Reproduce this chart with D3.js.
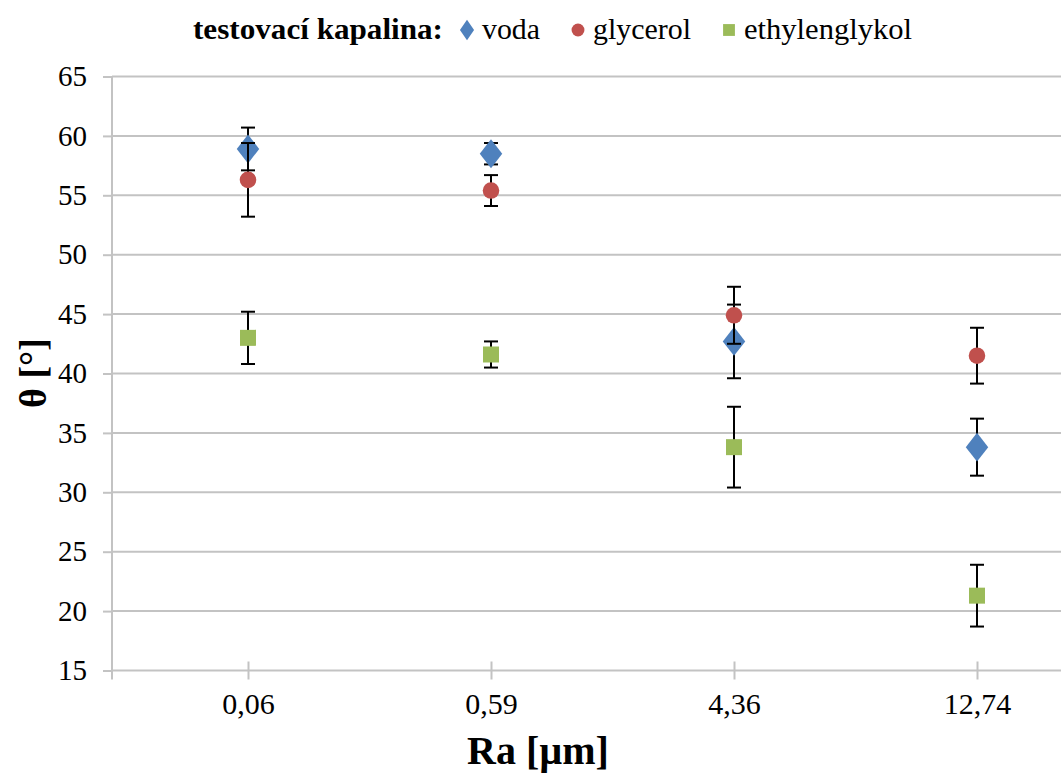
<!DOCTYPE html>
<html>
<head>
<meta charset="utf-8">
<script src="https://cdn.jsdelivr.net/npm/d3@7/dist/d3.min.js"></script>
<style>
  body { margin: 0; background: #fff; }
  svg { display: block; font-family: "Liberation Serif", "Times New Roman", serif; }
  .grid line { stroke: #c3c3c3; stroke-width: 2px; }
  .err { stroke: #000; stroke-width: 2px; }
</style>
</head>
<body>
<div id="chart"></div>
<script>
// categories (Ra values) and series
var categories = ['0,06', '0,59', '4,36', '12,74'];
var seriesNames = ['voda', 'glycerol', 'ethylenglykol'];
var vodaMean = [58.9, 58.5, 42.7, 33.8];
var vodaErr = [1.8, 0.9, 3.1, 2.4];
var glycerolMean = [56.3, 55.4, 44.9, 41.5];
var glycerolErr = [3.1, 1.3, 2.4, 2.35];
var ethylMean = [43.0, 41.6, 33.8, 21.3];
var ethylErr = [2.2, 1.1, 3.4, 2.6];
var yTicks = [15, 20, 25, 30, 35, 40, 45, 50, 55, 60, 65];

var W = 1061, H = 774;
var plotLeft = 112, plotTop = 76.5, plotBottom = 670.5;

var svg = d3.select('#chart').append('svg').attr('width', W).attr('height', H);

var y = d3.scaleLinear().domain([15, 65]).range([plotBottom, plotTop]);
var x = d3.scalePoint().domain(categories).range([248, 977]);

// horizontal gridlines
svg.append('g').attr('class', 'grid')
  .selectAll('line').data(yTicks).enter().append('line')
  .attr('x1', plotLeft).attr('x2', W)
  .attr('y1', function(d) { return y(d); })
  .attr('y2', function(d) { return y(d); });

// y axis
var yAxis = d3.axisLeft(y).tickValues(yTicks).tickSize(9).tickPadding(16);
var gy = svg.append('g').attr('transform', 'translate(' + plotLeft + ',0)').call(yAxis);
gy.attr('font-size', null).attr('font-family', null);
gy.select('.domain').remove();
gy.selectAll('.tick line').attr('stroke', '#c3c3c3').attr('stroke-width', 2);
gy.selectAll('.tick text').attr('font-size', 29).attr('fill', '#000');
svg.append('line').attr('x1', plotLeft).attr('x2', plotLeft)
  .attr('y1', plotTop).attr('y2', plotBottom + 9)
  .attr('stroke', '#c3c3c3').attr('stroke-width', 2);

// x axis
var xAxis = d3.axisBottom(x).tickSize(9).tickPadding(13);
var gx = svg.append('g').attr('transform', 'translate(0,' + plotBottom + ')').call(xAxis);
gx.attr('font-size', null).attr('font-family', null);
gx.select('.domain').remove();
gx.selectAll('.tick line').attr('y1', -9).attr('stroke', '#c3c3c3').attr('stroke-width', 2);
gx.selectAll('.tick text').attr('font-size', 30).attr('fill', '#000');

// axis titles
svg.append('text').attr('x', 538).attr('y', 764).attr('text-anchor', 'middle')
  .attr('font-size', 40).attr('font-weight', 'bold').text('Ra [µm]');
svg.append('text').attr('transform', 'translate(46,373) rotate(-90)')
  .attr('text-anchor', 'middle').attr('font-size', 38).attr('font-weight', 'bold')
  .text('θ [°]');

var series = [
  { name: seriesNames[0], mean: vodaMean, err: vodaErr, color: '#4f81bd', shape: d3.symbolDiamond, size: 240 },
  { name: seriesNames[1], mean: glycerolMean, err: glycerolErr, color: '#c0504d', shape: d3.symbolCircle, size: 215 },
  { name: seriesNames[2], mean: ethylMean, err: ethylErr, color: '#9bbb59', shape: d3.symbolSquare, size: 256 }
];

var cap = 7;
// error bars first, then markers, per series in drawing order
series.forEach(function(s) {
  var pts = categories.map(function(c, i) { return { c: c, m: s.mean[i], e: s.err[i] }; });
  var g = svg.append('g');
  var eb = g.selectAll('.eb').data(pts).enter().append('g');
  eb.append('line').attr('class', 'err')
    .attr('x1', function(d) { return x(d.c); }).attr('x2', function(d) { return x(d.c); })
    .attr('y1', function(d) { return y(d.m + d.e); }).attr('y2', function(d) { return y(d.m - d.e); });
  eb.append('line').attr('class', 'err')
    .attr('x1', function(d) { return x(d.c) - cap; }).attr('x2', function(d) { return x(d.c) + cap; })
    .attr('y1', function(d) { return y(d.m + d.e); }).attr('y2', function(d) { return y(d.m + d.e); });
  eb.append('line').attr('class', 'err')
    .attr('x1', function(d) { return x(d.c) - cap; }).attr('x2', function(d) { return x(d.c) + cap; })
    .attr('y1', function(d) { return y(d.m - d.e); }).attr('y2', function(d) { return y(d.m - d.e); });
  g.selectAll('.pt').data(pts).enter().append('path')
    .attr('d', d3.symbol().type(s.shape).size(s.size))
    .attr('transform', function(d) {
      var sc = s.shape === d3.symbolDiamond ? ' scale(1.35,1)' : '';
      return 'translate(' + x(d.c) + ',' + y(d.m) + ')' + sc;
    })
    .attr('fill', s.color);
});

// legend
var lg = svg.append('g');
lg.append('text').attr('x', 193).attr('y', 39).attr('font-size', 30).attr('font-weight', 'bold')
  .attr('textLength', 250).attr('lengthAdjust', 'spacingAndGlyphs')
  .text('testovací kapalina:');
var legendX = [467, 578, 729];
var legendW = [58, 98, 168];
series.forEach(function(s, i) {
  var sz = s.shape === d3.symbolDiamond ? 120 : (s.shape === d3.symbolCircle ? 130 : 140);
  lg.append('path').attr('d', d3.symbol().type(s.shape).size(sz))
    .attr('transform', 'translate(' + legendX[i] + ',30)' + (s.shape === d3.symbolDiamond ? ' scale(1.2,1)' : ''))
    .attr('fill', s.color);
  lg.append('text').attr('x', legendX[i] + 15).attr('y', 39).attr('font-size', 30)
    .attr('textLength', legendW[i]).attr('lengthAdjust', 'spacingAndGlyphs').text(s.name);
});
</script>
</body>
</html>
